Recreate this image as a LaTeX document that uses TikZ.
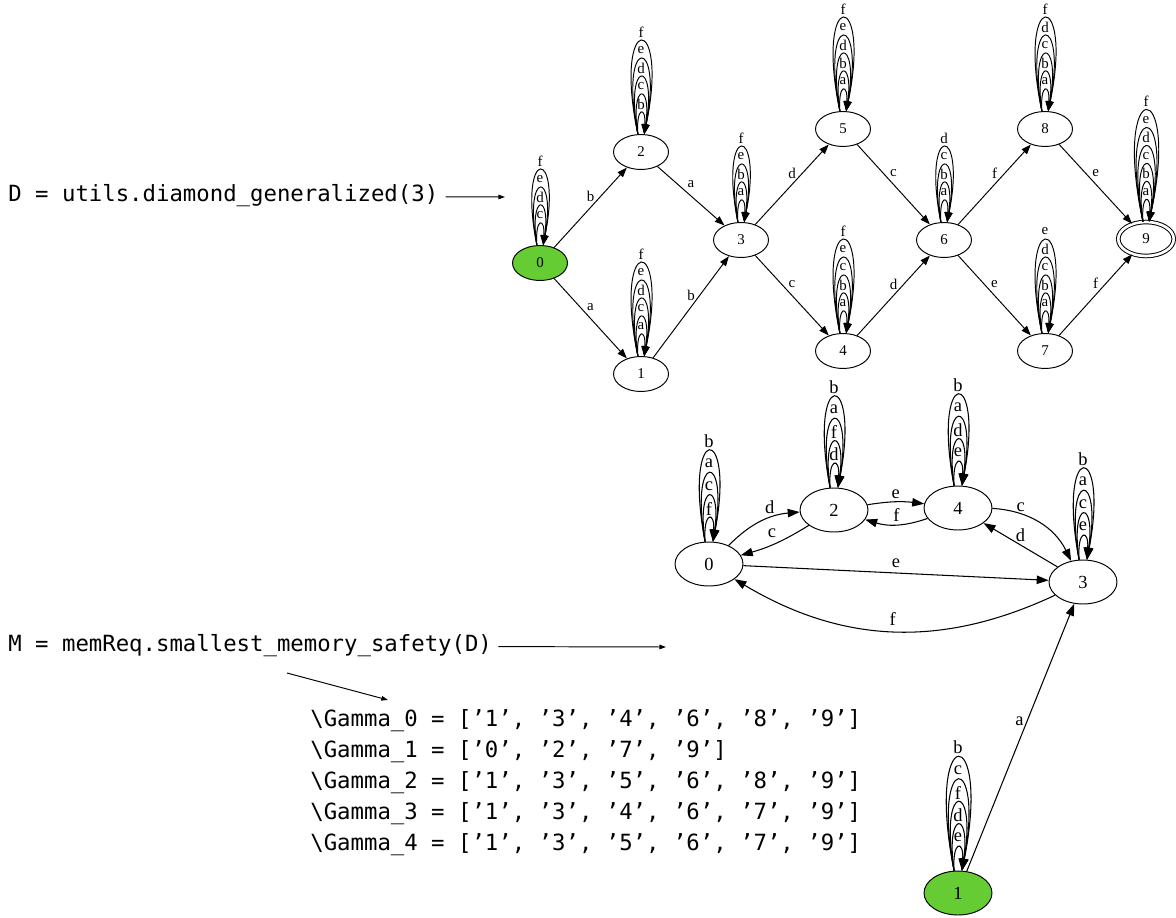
\documentclass[tikz,border=0pt]{standalone}
\usepackage{fontspec}
\setmonofont{DejaVu Sans Mono}
\newfontfamily\gvfont{Liberation Serif}
\usetikzlibrary{arrows.meta,shapes.geometric}
\definecolor{InitGreen}{RGB}{102,204,51}
\newcommand{\gvsmall}{\gvfont\fontsize{8.5}{10}\selectfont}
\newcommand{\gvbig}{\gvfont\fontsize{10.5}{12}\selectfont}
\newcommand{\codefont}{\ttfamily\fontsize{12.7}{15}\selectfont}
\tikzset{
  st/.style={ellipse,draw=black,line width=0.55pt,fill=white,
             minimum width=1.1cm,minimum height=0.7cm,inner sep=0pt,font=\gvsmall},
  stb/.style={st,minimum width=1.36cm,minimum height=0.88cm,font=\gvbig},
  init/.style={fill=InitGreen},
  acc/.style={double=white,double distance=1.5pt,minimum width=1.11cm,minimum height=0.68cm},
  tr/.style={-{Triangle[length=5.6pt,width=4pt]},line width=0.55pt},
  trb/.style={-{Triangle[length=6.8pt,width=4.8pt]},line width=0.6pt},
  lbl/.style={font=\gvsmall,inner sep=0pt},
  lblb/.style={font=\gvbig,inner sep=0pt},
  loopup/.style={yshift=0.18cm},
  loopupb/.style={yshift=0.2cm},
  code/.style={font=\codefont,inner sep=0pt,anchor=west},
  ptr/.style={-{Triangle[length=3.8pt,width=2.6pt]},line width=0.55pt},
}
% stacked self-loops: node, labels, first apex, step, widening, style suffix
\newcommand{\selfloops}[6]{%
  \foreach \lb [count=\k] in {#2}{%
    \pgfmathsetmacro{\hh}{(#3+#4*(\k-1))/0.75}%
    \pgfmathsetmacro{\ww}{2+#5*(\k-1)}%
    \draw[tr#6] (#1.100) .. controls +(-\ww,-\hh) and +(\ww,-\hh) .. (#1.80)
      node[lbl#6,pos=0.5,loopup#6]{\lb};
  }}

\begin{document}
\begin{tikzpicture}[x=0.02cm,y=-0.02cm]
  \useasboundingbox (0,0) rectangle (1176,918);

  % the diamond automaton
  \node[st,init] (t0) at (540,263) {0};
  \node[st] (t1) at (641,374) {1};
  \node[st] (t2) at (641,152) {2};
  \node[st] (t3) at (741,240) {3};
  \node[st] (t4) at (843,351) {4};
  \node[st] (t5) at (843,129) {5};
  \node[st] (t6) at (944,240) {6};
  \node[st] (t7) at (1045,351) {7};
  \node[st] (t8) at (1045,129) {8};
  \node[st,acc] (t9) at (1146,239) {9};
  \foreach \a/\b/\l in {t0/t2/b,t0/t1/a,t2/t3/a,t1/t3/b,t3/t5/d,t3/t4/c,
                        t5/t6/c,t4/t6/d,t6/t8/f,t6/t7/e,t8/t9/e,t7/t9/f}
    \draw[tr] (\a) -- node[lbl,yshift=0.23cm]{\l} (\b);
  \selfloops{t0}{c,d,e,f}{21}{18}{6}{}
  \selfloops{t1}{a,c,d,e,f}{21}{18}{6}{}
  \selfloops{t2}{b,c,d,e,f}{21}{18}{6}{}
  \selfloops{t3}{a,b,e,f}{21}{18}{6}{}
  \selfloops{t4}{a,b,c,e,f}{21}{18}{6}{}
  \selfloops{t5}{a,b,d,e,f}{21}{18}{6}{}
  \selfloops{t6}{a,b,c,d}{21}{18}{6}{}
  \selfloops{t7}{a,b,c,d,e}{21}{18}{6}{}
  \selfloops{t8}{a,b,c,d,f}{21}{18}{6}{}
  \selfloops{t9}{a,b,c,d,e,f}{21}{18}{6}{}

  % the memory automaton
  \node[stb] (m0) at (709,564) {0};
  \node[stb] (m2) at (834,510) {2};
  \node[stb] (m4) at (958,508) {4};
  \node[stb] (m3) at (1083,582) {3};
  \node[stb,init] (m1) at (958,893) {1};
  \draw[trb] (m0) to[bend left=20] node[lblb,xshift=0.18cm,yshift=0.28cm]{d} (m2);
  \draw[trb] (m2) to[bend left=8] node[lblb,xshift=-0.08cm,yshift=0.2cm]{c} (m0);
  \draw[trb] (m2) to[bend left=8] node[lblb,yshift=0.16cm]{e} (m4);
  \draw[trb] (m4) to[bend left=18] node[lblb,yshift=0.2cm]{f} (m2);
  \draw[trb] (m4) to[bend left=30] node[lblb,pos=0.3,xshift=-0.04cm,yshift=0.14cm]{c} (m3);
  \draw[trb] (m3) -- node[lblb,yshift=0.2cm]{d} (m4);
  \draw[trb] (m0) -- node[lblb,yshift=0.2cm]{e} (m3);
  \draw[trb] (m3) to[bend left=28] node[lblb,yshift=0.24cm]{f} (m0);
  \draw[trb] (m1) -- node[lblb,pos=0.56,xshift=-0.15cm]{a} (m3);
  \selfloops{m0}{f,c,a,b}{23}{22.5}{7}{b}
  \selfloops{m2}{d,f,a,b}{23}{22.5}{7}{b}
  \selfloops{m4}{e,d,a,b}{23}{22.5}{7}{b}
  \selfloops{m3}{e,c,a,b}{23}{22.5}{7}{b}
  \selfloops{m1}{e,d,f,c,b}{23}{22.5}{7}{b}

  % code lines
  \node[code] (dtxt) at (8,196) {D = utils.diamond\_generalized(3)};
  \coordinate (dtip) at (505,197);
  \draw[ptr,shorten <=0.14cm] (dtxt) -- (dtip);
  \node[code] (mtxt) at (8,646) {M = memReq.smallest\_memory\_safety(D)};
  \coordinate (mtip) at (666,647);
  \draw[ptr,shorten <=0.12cm] (mtxt) -- (mtip);
  \coordinate (mfoot) at (287,673);
  \coordinate (gtip) at (388,700);
  \draw[ptr] (mfoot) -- (gtip);
  \foreach \g/\lst in {0/{’1’, ’3’, ’4’, ’6’, ’8’, ’9’},
                       1/{’0’, ’2’, ’7’, ’9’},
                       2/{’1’, ’3’, ’5’, ’6’, ’8’, ’9’},
                       3/{’1’, ’3’, ’4’, ’6’, ’7’, ’9’},
                       4/{’1’, ’3’, ’5’, ’6’, ’7’, ’9’}}
    \node[code] (g\g) at (310,{721+31*\g}) {\textbackslash Gamma\_\g{} = [\lst]};
\end{tikzpicture}
\end{document}
